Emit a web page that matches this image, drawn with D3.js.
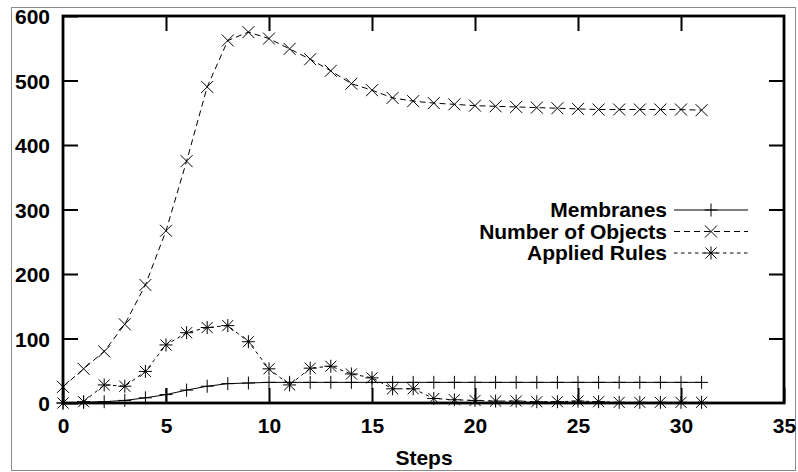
<!DOCTYPE html>
<html>
<head>
<meta charset="utf-8">
<script src="https://cdn.jsdelivr.net/npm/d3@7/dist/d3.min.js"></script>
<style>
  html, body { margin: 0; padding: 0; background: #fff; }
  svg { display: block; }
  text { font-family: "Liberation Sans", Arial, Helvetica, sans-serif; font-weight: bold; }
</style>
</head>
<body>
<svg id="chart" width="798" height="472"></svg>
<script>
const steps = d3.range(0, 32);
const membranes = [0, 1, 2, 4, 8, 13, 20, 26, 30, 31, 32, 32, 32, 32, 32, 32, 32, 32, 32, 32, 32, 32, 32, 32, 32, 32, 32, 32, 32, 32, 32, 32];
const objects = [25, 53, 80, 122, 183, 267, 375, 490, 562, 575, 565, 549, 533, 515, 495, 485, 473, 468, 465, 463, 461, 460, 459, 458, 457, 456, 455, 455, 455, 455, 455, 454];
const appliedRules = [0, 2, 28, 26, 49, 90, 109, 117, 120, 95, 53, 28, 54, 57, 45, 39, 22, 22, 7, 5, 4, 3, 3, 2, 2, 3, 2, 1, 1, 1, 1, 1];
const xTicks = [0, 5, 10, 15, 20, 25, 30, 35];
const yTicks = [0, 100, 200, 300, 400, 500, 600];
const seriesNames = ["Membranes", "Number of Objects", "Applied Rules"];

const svg = d3.select("#chart");
const L = 63, R = 784, T = 16, B = 403;
const FS = "21px";

const x = d3.scaleLinear().domain([0, 35]).range([L, R]);
const y = d3.scaleLinear().domain([0, 600]).range([B, T]);

// outer frame
svg.append("rect").attr("x", 11.5).attr("y", 7.5).attr("width", 784).attr("height", 463)
  .attr("fill", "none").attr("stroke", "#8a8a8a").attr("stroke-width", 1);

const tickLen = 15;
function styleAxis(g) {
  g.select(".domain").remove();
  g.selectAll(".tick line").attr("stroke", "#000").attr("stroke-width", 2);
  g.selectAll(".tick text").attr("fill", "#000").style("font-size", FS).style("font-weight", "bold")
    .style("font-family", '"Liberation Sans", Arial, sans-serif');
}

svg.append("g").attr("transform", `translate(0,${B})`)
  .call(d3.axisBottom(x).tickValues(xTicks).tickSize(-tickLen).tickPadding(15).tickFormat(d3.format("d")))
  .call(styleAxis);
svg.append("g").attr("transform", `translate(0,${T})`)
  .call(d3.axisTop(x).tickValues(xTicks.slice(1, -1)).tickSize(-tickLen).tickFormat(""))
  .call(styleAxis);
svg.append("g").attr("transform", `translate(${L},0)`)
  .call(d3.axisLeft(y).tickValues(yTicks).tickSize(-tickLen).tickPadding(13).tickFormat(d3.format("d")))
  .call(styleAxis)
  .call(g => g.selectAll(".tick text").attr("dy", "0.38em"));
svg.append("g").attr("transform", `translate(${R},0)`)
  .call(d3.axisRight(y).tickValues(yTicks.slice(1, -1)).tickSize(-tickLen).tickFormat(""))
  .call(styleAxis);

// plot border
svg.append("rect").attr("x", L).attr("y", T).attr("width", R - L).attr("height", B - T)
  .attr("fill", "none").attr("stroke", "#000").attr("stroke-width", 2.8);

// axis title
svg.append("text").attr("x", (L + R) / 2 + 0.5).attr("y", 465).attr("text-anchor", "middle")
  .style("font-size", FS).text("Steps");

// markers
function plus(g, cx, cy, s) {
  g.append("path").attr("d", `M${cx - s},${cy}H${cx + s}M${cx},${cy - s}V${cy + s}`);
}
function cross(g, cx, cy, s) {
  g.append("path").attr("d", `M${cx - s},${cy - s}L${cx + s},${cy + s}M${cx - s},${cy + s}L${cx + s},${cy - s}`);
}
function star(g, cx, cy, s) {
  plus(g, cx, cy, s);
  cross(g, cx, cy, s * 0.85);
}

const series = [
  { name: seriesNames[0], values: membranes, dash: null, marker: plus, size: 6.5 },
  { name: seriesNames[1], values: objects, dash: "6,4", marker: cross, size: 6 },
  { name: seriesNames[2], values: appliedRules, dash: "3.5,3.5", marker: star, size: 6.5 }
];

const line = d3.line().x(d => x(d[0])).y(d => y(d[1]));

series.forEach(s => {
  const pts = steps.map((st, i) => [st, s.values[i]]);
  const g = svg.append("g").attr("fill", "none").attr("stroke", "#000").attr("stroke-width", 1);
  g.append("path").attr("d", line(pts)).attr("stroke-dasharray", s.dash);
  const mg = svg.append("g").attr("fill", "none").attr("stroke", "#000").attr("stroke-width", 1);
  pts.forEach(p => s.marker(mg, x(p[0]), y(p[1]), s.size));
});

// legend
const legX = 667, lineX1 = 674, lineX2 = 748, markX = 711;
const legY = [217, 238.5, 260];
series.forEach((s, i) => {
  const by = legY[i];
  svg.append("text").attr("x", legX).attr("y", by).attr("text-anchor", "end")
    .style("font-size", FS).text(s.name);
  const cy = by - 7;
  const g = svg.append("g").attr("fill", "none").attr("stroke", "#000").attr("stroke-width", 1);
  g.append("line").attr("x1", lineX1).attr("x2", lineX2).attr("y1", cy).attr("y2", cy)
    .attr("stroke-dasharray", s.dash);
  s.marker(g, markX, cy, s.size);
});
</script>
</body>
</html>
